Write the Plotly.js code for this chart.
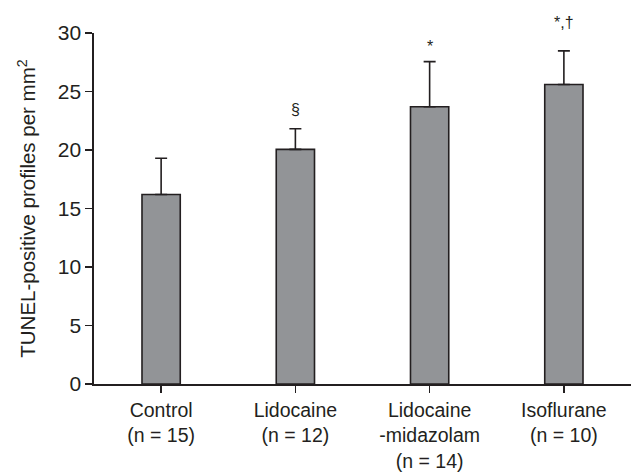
<!DOCTYPE html>
<html>
<head>
<meta charset="utf-8">
<script src="https://cdn.plot.ly/plotly-3.0.1.min.js"></script>
<style>html,body{margin:0;padding:0;background:#fff;}#chart{width:632px;height:474px;}</style>
</head>
<body>
<div id="chart"></div>
<script>
// Data
const groups = ["Control", "Lidocaine", "Lidocaine<br>-midazolam", "Isoflurane"];
const groupN = ["(n = 15)", "(n = 12)", "(n = 14)", "(n = 10)"];
const means = [16.2, 20.05, 23.7, 25.6];
const errUp = [3.1, 1.77, 3.85, 2.87];
const marks = ["", "§", "*", "*,†"];
const yTicks = [0, 5, 10, 15, 20, 25, 30];

const ink = "#231f20";
const labels = groups.map((g, i) => g + "<br>" + groupN[i]);
const font = "Liberation Sans, Arial, Helvetica, sans-serif";

const trace = {
  type: "bar",
  x: labels,
  y: means,
  width: 0.285,
  marker: { color: "#929497", line: { color: ink, width: 1.6 } },
  error_y: {
    type: "data",
    symmetric: false,
    array: errUp,
    arrayminus: means.map(() => 0),
    color: ink,
    thickness: 1.6,
    width: 6
  },
  hoverinfo: "skip"
};

const markShift = [0, 9, 5, 18];
const annotations = marks.map((m, i) => ({
  x: labels[i], y: means[i] + errUp[i], xref: "x", yref: "y",
  text: m, showarrow: false, yanchor: "bottom", yshift: markShift[i],
  font: { family: font, size: 16, color: ink }
})).filter(a => a.text !== "");

const layout = {
  width: 632, height: 474,
  margin: { l: 94, r: 1, t: 33, b: 90 },
  paper_bgcolor: "#fff", plot_bgcolor: "#fff",
  showlegend: false,
  font: { family: font, color: ink, size: 21 },
  xaxis: {
    type: "category",
    range: [-0.5, 3.5],
    showline: true, linecolor: ink, linewidth: 1.6,
    ticks: "outside", ticklen: 7, tickwidth: 1.6, tickcolor: ink,
    ticklabelstandoff: 1,
    showgrid: false, zeroline: false,
    tickfont: { family: font, size: 19.5, color: ink },
    fixedrange: true
  },
  yaxis: {
    range: [0, 30],
    tickvals: yTicks,
    showline: true, linecolor: ink, linewidth: 1.6,
    ticks: "outside", ticklen: 7, tickwidth: 1.6, tickcolor: ink,
    showgrid: false, zeroline: false,
    tickfont: { family: font, size: 21, color: ink },
    title: { text: "TUNEL-positive profiles per mm<sup>2</sup>", font: { family: font, size: 20.5, color: ink }, standoff: 16 },
    fixedrange: true
  },
  shapes: [0, 1].map(px => ({
    type: "line", xref: "paper", yref: "y",
    x0: px, x1: px, ysizemode: "pixel", yanchor: 0, y0: 0, y1: -7,
    line: { color: ink, width: 1.6 }
  })),
  annotations: annotations
};

Plotly.newPlot("chart", [trace], layout, { displayModeBar: false, staticPlot: true });
</script>
</body>
</html>
